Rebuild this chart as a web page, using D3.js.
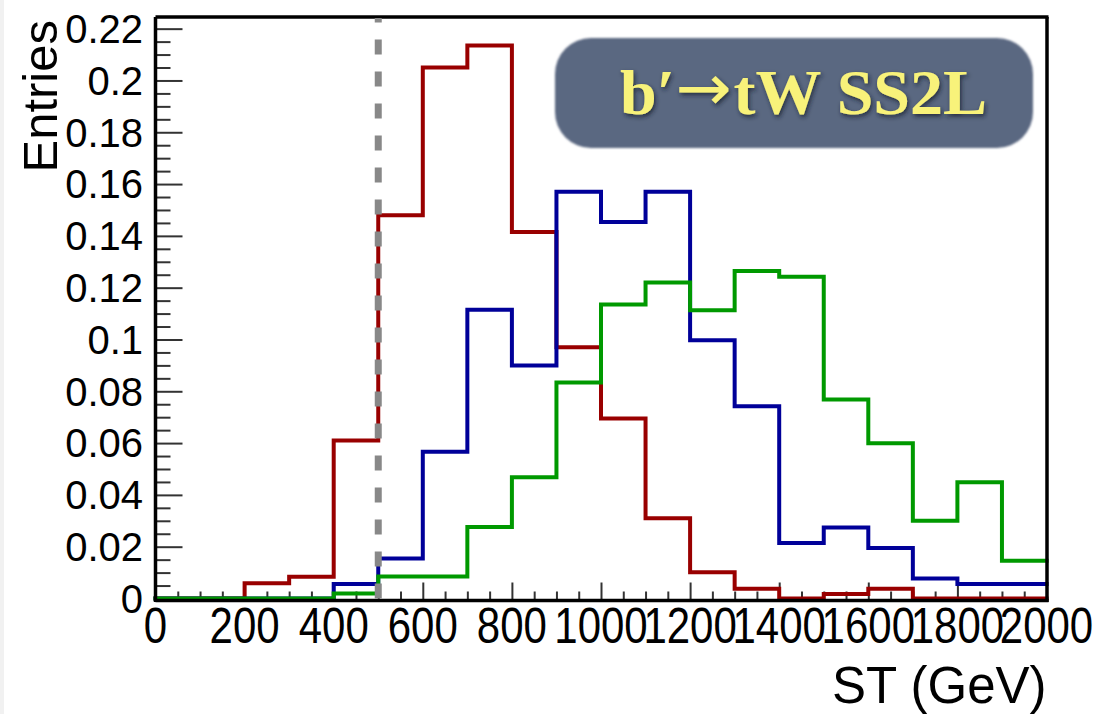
<!DOCTYPE html>
<html>
<head>
<meta charset="utf-8">
<script src="https://cdn.jsdelivr.net/npm/d3@7"></script>
<style>
  html, body { margin: 0; padding: 0; background: #ffffff; }
  svg { display: block; }
</style>
</head>
<body>
<svg id="chart" width="1099" height="714"></svg>
<script>
// Bin edges of the ST histograms (GeV)
const binEdges = [0, 100, 200, 300, 400, 500, 600, 700, 800, 900, 1000,
                  1100, 1200, 1300, 1400, 1500, 1600, 1700, 1800, 1900, 2000];

// Normalised entries per bin for the three samples
const redEntries = [0, 0, 0.0059, 0.0084, 0.061, 0.148, 0.205, 0.2135, 0.1415, 0.097,
                    0.0695, 0.031, 0.0101, 0.0038, 0, 0.0017, 0.0038, 0, 0, 0];
const blueEntries = [0, 0, 0, 0, 0.0056, 0.0154, 0.0567, 0.1115, 0.090, 0.157,
                     0.1454, 0.157, 0.0997, 0.0742, 0.0214, 0.0274, 0.0195, 0.0077, 0.0056, 0.0056];
const greenEntries = [0, 0, 0, 0, 0.0019, 0.0085, 0.0085, 0.0276, 0.0468, 0.0834,
                      0.1135, 0.122, 0.1113, 0.1264, 0.1242, 0.0768, 0.0599, 0.030, 0.0449, 0.0146];

// Axis ticks and labels
const xMajorTicks = [0, 200, 400, 600, 800, 1000, 1200, 1400, 1600, 1800, 2000];
const yMajorTicks = [0, 0.02, 0.04, 0.06, 0.08, 0.1, 0.12, 0.14, 0.16, 0.18, 0.2, 0.22];
const xTitle = "ST (GeV)";
const yTitle = "Entries";
const badgeParts = ["b\u2032", "\u2192", "tW SS2L"];
const cutValue = 500;   // ST selection cut

const svg = d3.select("#chart");
const frame = { left: 155.5, right: 1046.5, top: 17, bottom: 598.5 };

const x = d3.scaleLinear().domain([0, 2000]).range([frame.left, frame.right]);
const y = d3.scaleLinear().domain([0, 0.2245]).range([frame.bottom, frame.top]);

// faint strip on the left edge
svg.append("rect").attr("x", 0).attr("y", 0).attr("width", 4).attr("height", 714).attr("fill", "#f1f1f1");

// ---- axes with inward ticks (ROOT style) ----
const xAxis = d3.axisBottom(x)
  .tickValues(d3.range(0, 2001, 50))
  .tickSizeInner(-7).tickSizeOuter(0).tickFormat("");
const gx = svg.append("g").attr("transform", `translate(0,${frame.bottom + 1})`).call(xAxis);
gx.select(".domain").remove();
gx.selectAll(".tick line")
  .attr("y2", d => (d % 200 === 0 ? -17 : -8))
  .attr("stroke", "#333").attr("stroke-width", 2);

const yAxis = d3.axisLeft(y)
  .tickValues(d3.range(0, 0.2246, 0.005))
  .tickSizeInner(-15).tickSizeOuter(0).tickFormat("");
const gy = svg.append("g").attr("transform", `translate(${frame.left},0)`).call(yAxis);
gy.select(".domain").remove();
gy.selectAll(".tick line")
  .attr("x2", d => (Math.abs(d / 0.02 - Math.round(d / 0.02)) < 1e-6 ? 27 : 15))
  .attr("stroke", "#333").attr("stroke-width", 2);

// tick labels
const fmt = d => d3.format("~g")(d);
svg.append("g").selectAll("text").data(yMajorTicks).join("text")
  .attr("x", 143).attr("y", d => y(d) + 14.3)
  .attr("text-anchor", "end")
  .attr("font-family", "Liberation Sans, Arial, sans-serif")
  .attr("font-size", 40).attr("fill", "#000")
  .text(fmt);

svg.append("g").selectAll("text").data(xMajorTicks).join("text")
  .attr("transform", d => `translate(${x(d)},643) scale(1,1.2)`)
  .attr("text-anchor", "middle")
  .attr("font-family", "Liberation Sans, Arial, sans-serif")
  .attr("font-size", 42).attr("fill", "#000")
  .text(fmt);

// axis titles
svg.append("text")
  .attr("transform", `translate(${frame.right},703)`)
  .attr("text-anchor", "end")
  .attr("font-family", "Liberation Sans, Arial, sans-serif")
  .attr("font-size", 51).attr("fill", "#000")
  .text(xTitle);

svg.append("text")
  .attr("transform", `translate(57,20) rotate(-90)`)
  .attr("text-anchor", "end")
  .attr("font-family", "Liberation Sans, Arial, sans-serif")
  .attr("font-size", 49).attr("fill", "#000")
  .text(yTitle);

// ---- histograms ----
const stepLine = d3.line()
  .x(d => x(d[0]))
  .y(d => y(d[1]))
  .curve(d3.curveStepAfter);

function histPoints(values) {
  const pts = values.map((v, i) => [binEdges[i], v]);
  pts.push([binEdges[binEdges.length - 1], values[values.length - 1]]);
  return pts;
}

const series = [
  { values: redEntries, color: "#990000" },
  { values: blueEntries, color: "#000099" },
  { values: greenEntries, color: "#009900" }
];

svg.append("g").selectAll("path").data(series).join("path")
  .attr("d", s => stepLine(histPoints(s.values)))
  .attr("fill", "none")
  .attr("stroke", s => s.color)
  .attr("stroke-width", 4)
  .attr("stroke-linejoin", "miter")
  .attr("stroke-linecap", "square");

// ---- frame ----
svg.append("line").attr("x1", frame.left).attr("x2", frame.right + 2)
  .attr("y1", 600.5).attr("y2", 600.5).attr("stroke", "#000").attr("stroke-width", 3.5);
svg.append("line").attr("x1", frame.left).attr("x2", frame.left)
  .attr("y1", frame.top).attr("y2", 602).attr("stroke", "#000").attr("stroke-width", 3.5);
svg.append("line").attr("x1", frame.left).attr("x2", frame.right + 2)
  .attr("y1", frame.top).attr("y2", frame.top).attr("stroke", "#000").attr("stroke-width", 3.5);
svg.append("line").attr("x1", frame.right + 0.5).attr("x2", frame.right + 0.5)
  .attr("y1", frame.top).attr("y2", 602).attr("stroke", "#000").attr("stroke-width", 3.5);

// ---- selection cut ----
svg.append("line")
  .attr("x1", x(cutValue)).attr("x2", x(cutValue))
  .attr("y1", y(0)).attr("y2", frame.top + 1)
  .attr("stroke", "#888").attr("stroke-width", 7)
  .attr("stroke-dasharray", "15,17");

// ---- process badge ----
const defs = svg.append("defs");
const sh = defs.append("filter").attr("id", "textShadow")
  .attr("x", "-10%").attr("y", "-20%").attr("width", "120%").attr("height", "150%");
sh.append("feDropShadow").attr("dx", 1.5).attr("dy", 2.5).attr("stdDeviation", 2)
  .attr("flood-color", "#1c2230").attr("flood-opacity", 0.8);
const soft = defs.append("filter").attr("id", "boxSoft");
soft.append("feGaussianBlur").attr("stdDeviation", 0.8);

svg.append("rect")
  .attr("x", 555).attr("y", 38).attr("width", 478).attr("height", 110)
  .attr("rx", 36).attr("ry", 36)
  .attr("fill", "#5a6781")
  .attr("filter", "url(#boxSoft)");

const badge = svg.append("text")
  .attr("x", 620).attr("y", 114)
  .attr("font-family", "Liberation Serif, Times New Roman, serif")
  .attr("font-weight", "bold")
  .attr("font-size", 63)
  .attr("fill", "#f8f27a")
  .attr("filter", "url(#textShadow)");
badge.append("tspan").text(badgeParts[0]);
badge.append("tspan")
  .attr("font-family", "DejaVu Sans, sans-serif")
  .attr("font-weight", "normal")
  .attr("font-size", 64)
  .attr("dy", -4)
  .text(badgeParts[1]);
badge.append("tspan").attr("dy", 4).attr("dx", 2).text(badgeParts[2]);
badge.attr("textLength", 367).attr("lengthAdjust", "spacingAndGlyphs");
</script>
</body>
</html>
